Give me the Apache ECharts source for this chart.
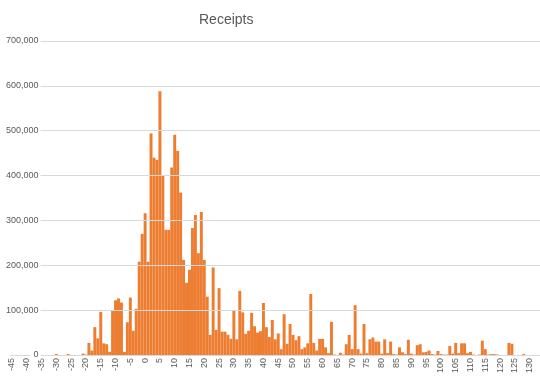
<!DOCTYPE html>
<html>
<head>
<meta charset="utf-8">
<script src="https://cdn.jsdelivr.net/npm/echarts@6/dist/echarts.min.js"></script>
<style>
html,body{margin:0;padding:0;background:#fff;}
#chart{width:540px;height:386px;}
</style>
</head>
<body>
<div id="chart"></div>
<script>
// Categories: integer bins from -45 to 133
var startBin = -45;
var values = [
  // -45 .. -31
  0,0,0,0,0,0,0,0,0,0,0,0,0,0,0,
  // -30 .. -21
  2000,0,0,0,2000,0,0,0,0,3000,
  // -20 .. -11
  1000,27000,10000,62000,37000,96000,26000,24000,7000,100000,
  // -10 .. -1
  122000,126000,117000,7000,73000,128000,54000,103000,208000,270000,
  // 0 .. 9
  316000,208000,494000,440000,435000,588000,401000,279000,279000,418000,
  // 10 .. 19
  491000,455000,362000,212000,161000,190000,283000,312000,227000,319000,
  // 20 .. 29
  212000,130000,45000,195000,56000,149000,52000,52000,45000,36000,
  // 30 .. 39
  100000,35000,143000,95000,47000,54000,94000,64000,50000,53000,
  // 40 .. 49
  116000,62000,40000,78000,35000,48000,13000,91000,25000,69000,
  // 50 .. 59
  45000,33000,42000,13000,17000,26000,136000,27000,10000,36000,
  // 60 .. 69
  36000,17000,4000,74000,1000,0,5000,1000,24000,45000,
  // 70 .. 79
  13000,111000,13000,3000,69000,4000,35000,39000,30000,30000,
  // 80 .. 89
  3000,35000,4000,30000,2000,1000,17000,6000,2000,34000,
  // 90 .. 99
  3000,1000,22000,24000,6000,7000,10000,2000,1000,9000,
  // 100 .. 109
  2000,1000,1000,20000,3000,27000,4000,26000,26000,4000,
  // 110 .. 119
  7000,1000,0,1000,32000,13000,1000,2000,2000,1000,
  // 120 .. 129
  0,0,0,27000,25000,0,0,0,2000,0,
  // 130 .. 133
  0,0,0,0
];
var categories = values.map(function(_, i){ return String(startBin + i); });
var yTicks = [0,100000,200000,300000,400000,500000,600000,700000];
var titleText = 'Receipts';

var chart = echarts.init(document.getElementById('chart'), null, {renderer:'canvas'});
chart.setOption({
  animation: false,
  backgroundColor: '#ffffff',
  title: {
    text: titleText,
    left: 194, top: 8,
    textStyle: {color:'#595959', fontSize:14, fontWeight:'normal', fontFamily:'Liberation Sans, Arial, sans-serif'}
  },
  grid: {left: 6.5, right: 0, top: 41, bottom: 31, containLabel: false},
  xAxis: {
    type: 'category',
    data: categories,
    boundaryGap: true,
    axisLine: {show:true, lineStyle:{color:'#D9D9D9', width:1}},
    axisTick: {show:false},
    axisLabel: {
      interval: 4, rotate: 90, margin: 3,
      color:'#595959', fontSize: 9, fontFamily:'Liberation Sans, Arial, sans-serif'
    },
    splitLine: {show:false}
  },
  yAxis: {
    type: 'value',
    min: yTicks[0], max: yTicks[yTicks.length-1], interval: 100000,
    axisLine: {show:false},
    axisTick: {show:false},
    splitLine: {show:true, lineStyle:{color:'#D9D9D9', width:1}},
    axisLabel: {
      inside: true, align: 'right', margin: 30,
      color:'#595959', fontSize: 9, fontFamily:'Liberation Sans, Arial, sans-serif',
      backgroundColor:'#ffffff', padding:[1,2,1,3],
      formatter: function(v){ return v.toLocaleString('en-US'); }
    },
    z: 5
  },
  series: [{
    type: 'bar',
    data: values,
    barCategoryGap: '0%',
    itemStyle: {color:'#ED7D31'},
    z: 2
  }]
});
</script>
</body>
</html>
